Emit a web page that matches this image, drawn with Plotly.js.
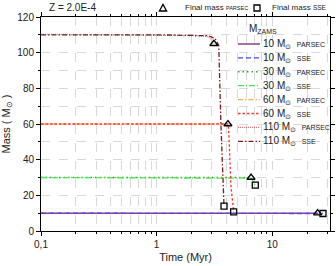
<!DOCTYPE html>
<html><head><meta charset="utf-8">
<script src="https://cdn.plot.ly/plotly-3.0.1.min.js"></script>
<style>html,body{margin:0;padding:0;background:#fff;}#chart{width:336px;height:266px;}</style>
</head><body><div id="chart"></div>
<script>
// ---- data ----
const t10Parsec = [0.1, 1, 10, 24.7];
const m10Parsec = [10, 10, 10, 10];
const t10Sse = [0.1, 1, 10, 27.5];
const m10Sse = [10, 10, 10, 9.8];
const t30Parsec = [0.1, 1, 6.56];
const m30Parsec = [30, 30, 30];
const t30Sse = [0.1, 1, 6.6, 7.14];
const m30Sse = [30, 30, 29.6, 25.7];
const t60Parsec = [0.1, 1, 4.14];
const m60Parsec = [60, 60, 60];
const t60Sse = [0.1, 1, 4.12, 4.2, 4.27, 4.4, 4.64];
const m60Sse = [60, 60, 60, 57, 41, 25, 10.7];
const t110Parsec = [0.1, 1, 2, 2.78, 3.0, 3.13];
const m110Parsec = [110.3, 110, 109.6, 109, 107.5, 105];
const t110Sse = [0.1, 1, 2.8, 3.2, 3.45, 3.6, 3.83];
const m110Sse = [110, 110, 109.5, 108, 104, 60, 14];
const tFinalParsec = [24.7, 6.56, 4.14, 3.13];
const mFinalParsec = [10, 30, 60, 105];
const tFinalSse = [27.5, 7.14, 4.64, 3.83];
const mFinalSse = [9.8, 25.7, 10.7, 14];
const xTickVals = [0.1, 1, 10];
const xTickText = ['0,1', '1', '10'];
const xMinorVals = [0.2,0.3,0.4,0.5,0.6,0.7,0.8,0.9,2,3,4,5,6,7,8,9,20,30];
const zamsMasses = [10, 10, 30, 30, 60, 60, 110, 110];
const models = ['PARSEC', 'SSE', 'PARSEC', 'SSE', 'PARSEC', 'SSE', 'PARSEC', 'SSE'];

const sun = '\u2299';
const nb = '\u00a0';

// styles
const styles = [
  {color: '#8e3e8e', dash: 'solid', width: 1.5},
  {color: '#4646ff', dash: '5px,3px', width: 1.3},
  {color: '#3a9e3a', dash: '1.5px,3px', width: 1.4},
  {color: '#44ee44', dash: '6px,2px,1px,2px', width: 1.3},
  {color: '#ffaa50', dash: '5px,2px,1.5px,2px', width: 1.3},
  {color: '#ff3636', dash: '2.5px,2px', width: 1.3},
  {color: '#ff7878', dash: '1px,1px', width: 1.3},
  {color: '#7a1c1c', dash: '5px,2px,1.5px,2px', width: 1.3}
];
const xs = [t10Parsec, t10Sse, t30Parsec, t30Sse, t60Parsec, t60Sse, t110Parsec, t110Sse];
const ys = [m10Parsec, m10Sse, m30Parsec, m30Sse, m60Parsec, m60Sse, m110Parsec, m110Sse];

// plot-area geometry (pixels) for placing legend decorations
const L = 41, R = 330, T = 17, B = 231;
const px = v => (v - L) / (R - L);
const py = v => (B - v) / (B - T);

const traces = [];
const shapes = [];
const annotations = [];
for (let i = 0; i < xs.length; i++) {
  traces.push({x: xs[i], y: ys[i], mode: 'lines', type: 'scatter', showlegend: false,
    name: zamsMasses[i] + ' ' + models[i], line: styles[i]});
  const yy = 44 + i * 13.9;
  shapes.push({type: 'line', xref: 'paper', yref: 'paper', x0: px(238), x1: px(260), y0: py(yy), y1: py(yy),
    line: {color: styles[i].color, dash: styles[i].dash, width: styles[i].width}});
  annotations.push({xref: 'paper', yref: 'paper', x: px(261), y: py(yy), xanchor: 'left', yanchor: 'middle',
    showarrow: false, font: {size: 10, color: '#222'},
    text: zamsMasses[i] + ' M<sub>' + sun + '</sub>' + nb + nb + '<span style="font-size:7px">' + models[i] + '</span>'});
}
annotations.push({xref: 'paper', yref: 'paper', x: px(247), y: py(29), xanchor: 'left', yanchor: 'middle',
  showarrow: false, font: {size: 10, color: '#222'}, text: 'M<sub>ZAMS</sub>'});
annotations.push({xref: 'paper', yref: 'paper', x: px(47), y: py(8), xanchor: 'left', yanchor: 'middle',
  text: 'Z = 2.0E-4', showarrow: false, font: {size: 10, color: '#222'}});

// top key: final-mass symbols
const keyY = 8;
const tx = 163, sx = 257;
shapes.push({type: 'path', xref: 'paper', yref: 'paper',
  path: 'M ' + px(tx - 3.6) + ' ' + py(keyY + 3) + ' L ' + px(tx + 3.6) + ' ' + py(keyY + 3) +
        ' L ' + px(tx) + ' ' + py(keyY - 3.6) + ' Z',
  line: {color: '#000', width: 1.3}, fillcolor: 'rgba(0,0,0,0)'});
shapes.push({type: 'rect', xref: 'paper', yref: 'paper',
  x0: px(sx - 3), x1: px(sx + 3), y0: py(keyY + 3), y1: py(keyY - 3),
  line: {color: '#000', width: 1.3}, fillcolor: 'rgba(0,0,0,0)'});
annotations.push({xref: 'paper', yref: 'paper', x: px(183), y: py(keyY), xanchor: 'left', yanchor: 'middle',
  showarrow: false, font: {size: 8, color: '#222'},
  text: 'Final mass <span style="font-size:5.5px">PARSEC</span>'});
annotations.push({xref: 'paper', yref: 'paper', x: px(270), y: py(keyY), xanchor: 'left', yanchor: 'middle',
  showarrow: false, font: {size: 8, color: '#222'},
  text: 'Final mass <span style="font-size:6.5px">SSE</span>'});

traces.push(
  {x: tFinalParsec, y: mFinalParsec, mode: 'markers', type: 'scatter', showlegend: false,
   name: 'Final mass PARSEC',
   marker: {symbol: 'triangle-up-open', size: 7, color: '#000', line: {width: 1.3, color: '#000'}}},
  {x: tFinalSse, y: mFinalSse, mode: 'markers', type: 'scatter', showlegend: false,
   name: 'Final mass SSE',
   marker: {symbol: 'square-open', size: 6, color: '#000', line: {width: 1.3, color: '#000'}}}
);

const gridc = '#d0d0d0';
const layout = {
  width: 336, height: 266,
  margin: {l: L, r: 336 - R, t: T, b: 266 - B, autoexpand: false},
  paper_bgcolor: '#fff', plot_bgcolor: '#fff',
  font: {family: 'Liberation Sans, Arial, sans-serif', size: 10, color: '#222'},
  showlegend: false,
  xaxis: {
    type: 'log', range: [-1, 1.5], autorange: false,
    tickmode: 'array', tickvals: xTickVals, ticktext: xTickText,
    ticks: 'outside', ticklen: 4, tickcolor: '#000',
    showline: true, linecolor: '#000', linewidth: 1, mirror: 'ticks',
    showgrid: true, gridcolor: gridc, griddash: 'dash', gridwidth: 0.8,
    zeroline: false,
    tickfont: {size: 10, color: '#222'},
    minor: {tickmode: 'array', tickvals: xMinorVals, ticks: 'outside', ticklen: 2, tickcolor: '#000',
            showgrid: true, gridcolor: gridc, griddash: 'dash', gridwidth: 0.8},
    title: {text: 'Time (Myr)', font: {size: 11, color: '#222'}, standoff: 4}
  },
  yaxis: {
    range: [0, 120], autorange: false, dtick: 20, tick0: 0,
    ticks: 'outside', ticklen: 4, tickcolor: '#000',
    showline: true, linecolor: '#000', linewidth: 1, mirror: 'ticks',
    showgrid: true, gridcolor: gridc, griddash: 'dash', gridwidth: 0.8,
    zeroline: false,
    tickfont: {size: 10, color: '#222'},
    minor: {dtick: 10, ticks: 'outside', ticklen: 2, tickcolor: '#000',
            showgrid: true, gridcolor: gridc, griddash: 'dash', gridwidth: 0.8},
    title: {text: 'Mass ( M<sub>' + sun + '</sub> )', font: {size: 11, color: '#222'}, standoff: 4}
  },
  shapes: shapes,
  annotations: annotations
};
Plotly.newPlot('chart', traces, layout, {displayModeBar: false, staticPlot: true});
</script></body></html>
